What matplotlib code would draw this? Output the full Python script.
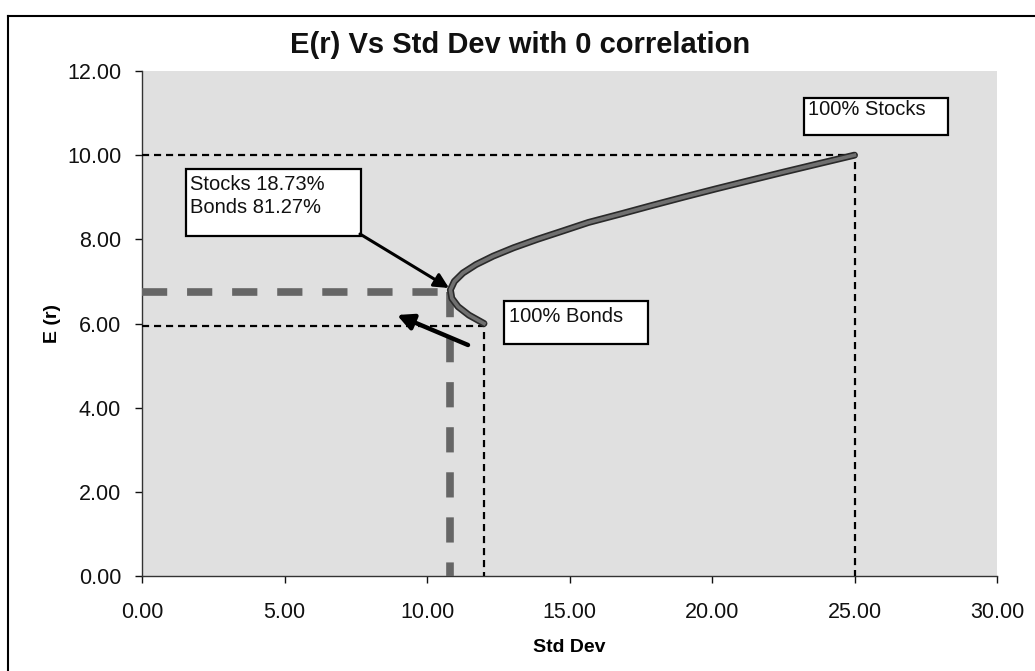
import matplotlib
matplotlib.use("Agg")
import matplotlib.pyplot as plt
from matplotlib.patches import Rectangle
from matplotlib.lines import Line2D

plt.rcParams['font.family'] = ['Liberation Sans', 'DejaVu Sans']

# ---- data ----
std_dev = [12.00, 11.47, 11.09, 10.87, 10.82, 10.96, 11.26, 11.72, 12.32, 13.04,
           13.87, 14.77, 15.66, 16.78, 17.87, 18.99, 20.14, 21.33, 22.53, 23.76, 25.00]
exp_ret = [6.00, 6.20, 6.40, 6.60, 6.80, 7.00, 7.20, 7.40, 7.60, 7.80,
           8.00, 8.20, 8.40, 8.60, 8.80, 9.00, 9.20, 9.40, 9.60, 9.80, 10.00]

stocks_point = (25.00, 10.00)
bonds_point = (12.00, 5.93)
minvar_point = (10.82, 6.75)

x_ticks = [0, 5, 10, 15, 20, 25, 30]
y_ticks = [0, 2, 4, 6, 8, 10, 12]
title = "E(r) Vs Std Dev with 0 correlation"
minvar_label = "Stocks 18.73%\nBonds 81.27%"
bonds_label = "100% Bonds"
stocks_label = "100% Stocks"

W, H = 1035, 671
fig = plt.figure(figsize=(W / 100, H / 100), dpi=100)
fig.patch.set_facecolor('white')

ax_l, ax_r, ax_b, ax_t = 142, 997, 576, 71
ax = fig.add_axes([ax_l / W, 1 - ax_b / H, (ax_r - ax_l) / W, (ax_b - ax_t) / H])
ax.set_facecolor('#e0e0e0')
ax.set_xlim(0, 30)
ax.set_ylim(0, 12)

def px2data(px, py):
    x = (px - ax_l) / (ax_r - ax_l) * 30
    y = (ax_b - py) / (ax_b - ax_t) * 12
    return x, y

for s in ['top', 'right']:
    ax.spines[s].set_visible(False)
for s in ['left', 'bottom']:
    ax.spines[s].set_color('#333333')
    ax.spines[s].set_linewidth(1.0)

ax.set_xticks(x_ticks)
ax.set_yticks(y_ticks)
ax.set_xticklabels([f"{v:.2f}" for v in x_ticks])
ax.set_yticklabels([f"{v:.2f}" for v in y_ticks])
ax.tick_params(axis='both', labelsize=15.5, colors='#111111', length=5, width=1)
ax.tick_params(axis='x', pad=14)
ax.tick_params(axis='y', pad=10)

ax.set_xlabel("Std Dev", fontsize=14, fontweight='bold', labelpad=11)
ax.set_ylabel("E (r)", fontsize=14, fontweight='bold', labelpad=4)

fig.text(520 / W, 1 - 45 / H, title, ha='center', va='center',
         fontsize=21, fontweight='bold', color='#111111')

# thin black dashed guide lines
ax.plot([0, stocks_point[0], stocks_point[0]], [stocks_point[1], stocks_point[1], 0],
        color='black', lw=1.6, dashes=(3.2, 2.2), zorder=3)
ax.plot([0, bonds_point[0], bonds_point[0]], [bonds_point[1], bonds_point[1], 0],
        color='black', lw=1.6, dashes=(3.2, 2.2), zorder=3)

# thick gray dashed guide lines (minimum variance)
ax.plot([0, minvar_point[0]], [minvar_point[1], minvar_point[1]],
        color='#666666', lw=5.5, dashes=(3.3, 2.6), solid_capstyle='butt', zorder=3)
ax.plot([minvar_point[0], minvar_point[0]], [minvar_point[1], 0],
        color='#666666', lw=5.5, dashes=(3.3, 2.6), solid_capstyle='butt', zorder=3)

# frontier curve
ax.plot(std_dev, exp_ret, color='#2a2a2a', lw=5.0, solid_joinstyle='round',
        solid_capstyle='round', zorder=4)
ax.plot(std_dev, exp_ret, color='#707070', lw=2.6, solid_joinstyle='round', zorder=5)

# boxes with text
def box(px0, py0, px1, py1, text, tx, ty):
    x0, y0 = px2data(px0, py1)
    x1, y1 = px2data(px1, py0)
    ax.add_patch(Rectangle((x0, y0), x1 - x0, y1 - y0, facecolor='white',
                           edgecolor='black', lw=1.6, zorder=6, clip_on=False))
    tx_, ty_ = px2data(tx, ty)
    ax.text(tx_, ty_, text, fontsize=14.5, ha='left', va='top', zorder=7,
            linespacing=1.25, color='#111111')

box(186, 169, 361, 236, minvar_label, 190, 175)
box(504, 301, 648, 344, bonds_label, 509, 307)
box(804, 98, 948, 135, stocks_label, 808, 100)

# arrows
a1_tail = px2data(360, 234)
a1_head = px2data(449, 288)
ax.annotate('', xy=a1_head, xytext=a1_tail,
            arrowprops=dict(arrowstyle='-|>', color='black', lw=2.2,
                            mutation_scale=22, shrinkA=0, shrinkB=0), zorder=8)
a2_tail = px2data(468, 345)
a2_head = px2data(397, 315)
ax.annotate('', xy=a2_head, xytext=a2_tail,
            arrowprops=dict(arrowstyle='-|>', color='black', lw=3.2,
                            mutation_scale=24, shrinkA=0, shrinkB=0), zorder=8)

# outer frame
fig.add_artist(Line2D([8 / W, 8 / W], [0, 1 - 16 / H], transform=fig.transFigure,
                      color='black', lw=1.5))
fig.add_artist(Line2D([8 / W, 1], [1 - 16 / H, 1 - 16 / H], transform=fig.transFigure,
                      color='black', lw=1.5))

fig.savefig("out.png", dpi=100)
